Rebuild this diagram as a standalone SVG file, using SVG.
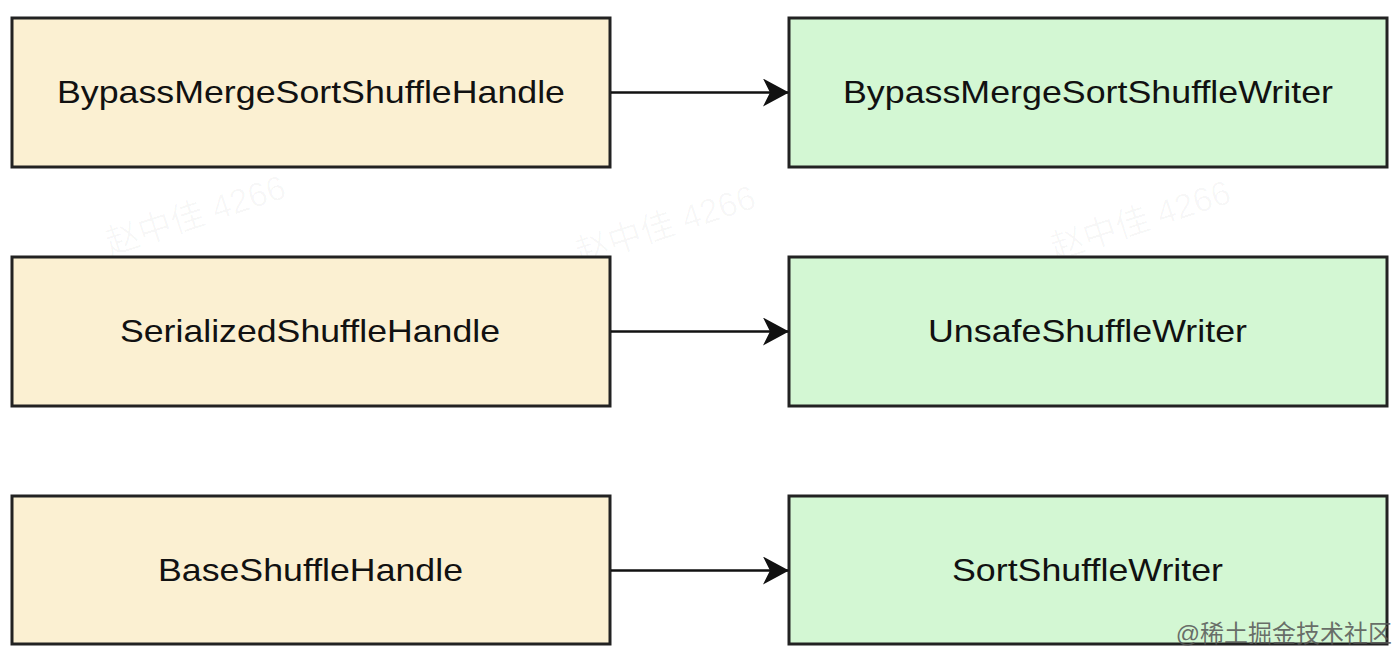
<svg xmlns="http://www.w3.org/2000/svg" width="1400" height="657" viewBox="0 0 1400 657">
<style>
.box{stroke:#222;stroke-width:3}
.h{fill:#fbf0d2}
.w{fill:#d3f7d3}
.t{font-family:"Liberation Sans",Arial,sans-serif;font-size:32px;fill:#111;text-anchor:middle}
.c{stroke:#111;stroke-width:2.5;fill:none}
.wm{font-family:"Liberation Sans","Noto Sans CJK SC",sans-serif;font-size:34px;fill:#000;fill-opacity:0.03}
</style>
<defs>
<marker id="arr" viewBox="0 0 26 28" refX="25" refY="14" markerWidth="26" markerHeight="28" markerUnits="userSpaceOnUse" orient="auto">
<path d="M0,0 L26,14 L0,28 L7,14 Z" fill="#111"/>
</marker>
</defs>
<rect width="1400" height="657" fill="#fff"/>
<g id="watermarks">
<text class="wm" transform="translate(110,255) rotate(-18)">赵中佳 4266</text>
<text class="wm" transform="translate(580,265) rotate(-18)">赵中佳 4266</text>
<text class="wm" transform="translate(1055,260) rotate(-18)">赵中佳 4266</text>
</g>
<g id="n1"><rect class="box h" x="12" y="18" width="598" height="149"/><text class="t" x="311" y="103" textLength="508" lengthAdjust="spacingAndGlyphs">BypassMergeSortShuffleHandle</text></g>
<g id="n2"><rect class="box w" x="789" y="18" width="598" height="149"/><text class="t" x="1088" y="103" textLength="490" lengthAdjust="spacingAndGlyphs">BypassMergeSortShuffleWriter</text></g>
<g id="n3"><rect class="box h" x="12" y="257" width="598" height="149"/><text class="t" x="310" y="342" textLength="380" lengthAdjust="spacingAndGlyphs">SerializedShuffleHandle</text></g>
<g id="n4"><rect class="box w" x="789" y="257" width="598" height="149"/><text class="t" x="1087.5" y="342" textLength="319" lengthAdjust="spacingAndGlyphs">UnsafeShuffleWriter</text></g>
<g id="n5"><rect class="box h" x="12" y="496" width="598" height="148"/><text class="t" x="310.5" y="581" textLength="305" lengthAdjust="spacingAndGlyphs">BaseShuffleHandle</text></g>
<g id="n6"><rect class="box w" x="789" y="496" width="598" height="148"/><text class="t" x="1087.5" y="581" textLength="271" lengthAdjust="spacingAndGlyphs">SortShuffleWriter</text></g>
<g id="connectors">
<line class="c" x1="611" y1="92.5" x2="788" y2="92.5" marker-end="url(#arr)"/>
<line class="c" x1="611" y1="331.5" x2="788" y2="331.5" marker-end="url(#arr)"/>
<line class="c" x1="611" y1="570.5" x2="788" y2="570.5" marker-end="url(#arr)"/>
</g>
<text x="1392" y="642" text-anchor="end" style="font-family:'Liberation Sans','Noto Sans CJK SC',sans-serif;font-size:24px;fill:#555;fill-opacity:0.85">@稀土掘金技术社区</text>
</svg>
